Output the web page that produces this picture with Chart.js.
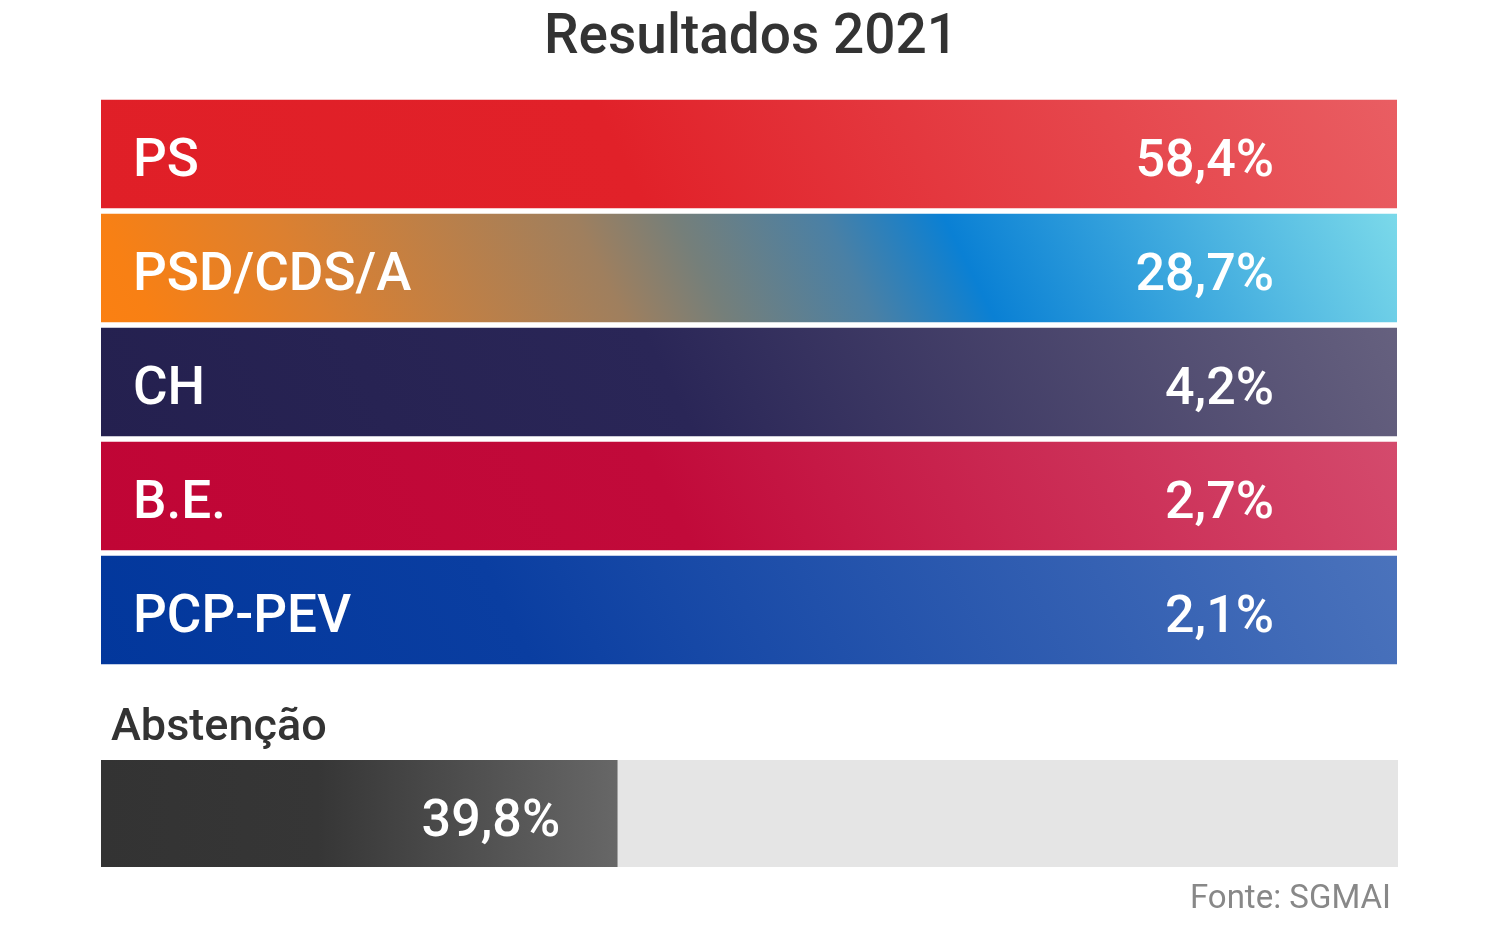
<!DOCTYPE html>
<html lang="pt">
<head>
    <meta charset="UTF-8">
    <title>Resultados 2021</title>
    <script src="https://cdn.jsdelivr.net/npm/chart.js@4"></script>
    <style>
        body { margin: 0; background: #fff; }
        .wrap { position: relative; width: 1500px; height: 931px; }
        .box { position: absolute; left: 0; width: 1500px; }
        #partiesBox { top: 0; height: 690px; }
        #abstBox { top: 690px; height: 241px; }
    </style>
</head>
<body>
    <div class="wrap">
        <div class="box" id="partiesBox"><canvas id="parties"></canvas></div>
        <div class="box" id="abstBox"><canvas id="abst"></canvas></div>
    </div>

    <script>
        // data
        const parties = ['PS', 'PSD/CDS/A', 'CH', 'B.E.', 'PCP-PEV'];
        const partyShares = [58.4, 28.7, 4.2, 2.7, 2.1];
        const bandValues = [100, 100, 100, 100, 100]; // every party band spans the full width
        const abstentionLabel = 'Abstenção';
        const abstention = [39.8];
        const abstentionTrack = [100];

        // gradient stops per party (position along the tilted gradient, colour)
        const partyStops = [
            [[0.08, '#e01f27'], [0.42, '#e12129'], [0.92, '#e95e63']],
            [[0.08, '#fb8012'], [0.115, '#f88014'], [0.223, '#dc8030'], [0.408, '#9f7f5e'], [0.47, '#757f7a'], [0.562, '#4a80a5'], [0.636, '#0a80d4'], [0.92, '#7cdaea']],
            [[0.08, '#24204f'], [0.45, '#2a2657'], [0.92, '#66617f']],
            [[0.08, '#c00535'], [0.45, '#c10a3a'], [0.92, '#d44b6d']],
            [[0.08, '#02379c'], [0.35, '#0a3ea1'], [0.92, '#4b73bc']]
        ];

        const fmt = v => v.toFixed(1).replace('.', ',') + '%';

        function bandGradient(context) {
            const chart = context.chart;
            const area = chart.chartArea;
            const stops = partyStops[context.dataIndex];
            if (!area) return stops[0][1];
            const cy = chart.scales.y.getPixelForValue(context.dataIndex);
            const k = (area.right - area.left) / 4;
            const g = chart.ctx.createLinearGradient(area.left, cy + k, area.right, cy - k);
            stops.forEach(s => g.addColorStop(s[0], s[1]));
            return g;
        }

        const partyText = {
            id: 'partyText',
            afterDatasetsDraw(chart) {
                const ctx = chart.ctx;
                const area = chart.chartArea;
                ctx.save();
                ctx.fillStyle = '#333333';
                ctx.textAlign = 'center';
                ctx.textBaseline = 'alphabetic';
                ctx.font = '500 55px Roboto';
                ctx.fillText('Resultados 2021', 751, 53);

                ctx.fillStyle = '#ffffff';
                parties.forEach((name, i) => {
                    const y = chart.scales.y.getPixelForValue(i) + 22;
                    ctx.textAlign = 'left';
                    ctx.font = '500 53px Roboto';
                    ctx.fillText(name, area.left + 32, y);
                    ctx.textAlign = 'right';
                    ctx.font = '500 52px Roboto';
                    ctx.fillText(fmt(partyShares[i]), area.right - 123, y);
                });
                ctx.restore();
            }
        };

        new Chart(document.getElementById('parties'), {
            type: 'bar',
            data: {
                labels: parties,
                datasets: [{
                    data: bandValues,
                    backgroundColor: bandGradient,
                    borderWidth: 0,
                    barThickness: 108
                }]
            },
            options: {
                indexAxis: 'y',
                responsive: true,
                maintainAspectRatio: false,
                animation: false,
                layout: { padding: { left: 101, right: 103, top: 97, bottom: 23 } },
                scales: {
                    x: { min: 0, max: 100, display: false },
                    y: { display: false }
                },
                plugins: { legend: { display: false }, tooltip: { enabled: false } }
            },
            plugins: [partyText]
        });

        function abstGradient(context) {
            const chart = context.chart;
            const area = chart.chartArea;
            if (!area) return '#333333';
            const end = chart.scales.x.getPixelForValue(abstention[0]);
            const g = chart.ctx.createLinearGradient(area.left, 0, end, 0);
            g.addColorStop(0, '#333333');
            g.addColorStop(0.42, '#363636');
            g.addColorStop(1, '#676767');
            return g;
        }

        const abstText = {
            id: 'abstText',
            afterDatasetsDraw(chart) {
                const ctx = chart.ctx;
                const cy = chart.scales.y.getPixelForValue(0);
                ctx.save();
                ctx.textBaseline = 'alphabetic';
                ctx.fillStyle = '#333333';
                ctx.textAlign = 'left';
                ctx.font = '500 45px Roboto';
                ctx.fillText(abstentionLabel, 111, 50);

                ctx.fillStyle = '#ffffff';
                ctx.textAlign = 'right';
                ctx.font = '500 52px Roboto';
                ctx.fillText(fmt(abstention[0]), chart.scales.x.getPixelForValue(abstention[0]) - 57, cy + 22);

                ctx.fillStyle = '#888888';
                ctx.font = '400 33px Roboto';
                ctx.fillText('Fonte: SGMAI', 1391, 218);
                ctx.restore();
            }
        };

        new Chart(document.getElementById('abst'), {
            type: 'bar',
            data: {
                labels: [abstentionLabel],
                datasets: [
                    { data: abstention, backgroundColor: abstGradient, borderWidth: 0, grouped: false, barPercentage: 1, categoryPercentage: 1 },
                    { data: abstentionTrack, backgroundColor: '#e5e5e5', borderWidth: 0, grouped: false, barPercentage: 1, categoryPercentage: 1 }
                ]
            },
            options: {
                indexAxis: 'y',
                responsive: true,
                maintainAspectRatio: false,
                animation: false,
                layout: { padding: { left: 101, right: 102, top: 70, bottom: 64 } },
                scales: {
                    x: { min: 0, max: 100, display: false },
                    y: { display: false }
                },
                plugins: { legend: { display: false }, tooltip: { enabled: false } }
            },
            plugins: [abstText]
        });
    </script>
</body>
</html>
